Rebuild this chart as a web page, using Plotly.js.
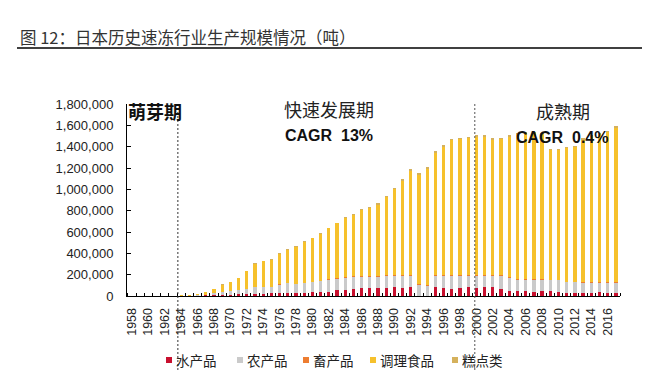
<!DOCTYPE html>
<html>
<head>
<meta charset="utf-8">
<script src="https://cdn.plot.ly/plotly-3.0.1.min.js"></script>
<style>html,body{margin:0;padding:0;background:#fff;}#chart{width:650px;height:374px;}</style>
</head>
<body>
<div id="chart"></div>
<script>
const years = [1958,1959,1960,1961,1962,1963,1964,1965,1966,1967,1968,1969,1970,1971,1972,1973,1974,1975,1976,1977,1978,1979,1980,1981,1982,1983,1984,1985,1986,1987,1988,1989,1990,1991,1992,1993,1994,1995,1996,1997,1998,1999,2000,2001,2002,2003,2004,2005,2006,2007,2008,2009,2010,2011,2012,2013,2014,2015,2016,2017];
const tickYears = [1958,1960,1962,1964,1966,1968,1970,1972,1974,1976,1978,1980,1982,1984,1986,1988,1990,1992,1994,1996,1998,2000,2002,2004,2006,2008,2010,2012,2014,2016];

// 水产品
const seafood = [0,0,0,0,0,0,0,1000,2000,5000,10000,12000,14000,16000,18000,22000,22000,24000,26000,28000,28000,30000,36000,38000,40000,52000,56000,62000,76000,72000,74000,78000,80000,76000,82000,2000,2000,80000,72000,66000,78000,80000,76000,86000,86000,66000,50000,48000,45000,38000,45000,45000,38000,30000,32000,30000,32000,38000,32000,30000];
// 农产品
const agri = [0,0,0,0,0,0,0,2000,4000,8000,15000,25000,32000,40000,48000,58000,60000,60000,80000,90000,84000,88000,92000,100000,112000,108000,116000,120000,102000,110000,108000,112000,112000,116000,110000,100000,92000,107000,113000,119000,107000,105000,109000,99000,99000,119000,120000,102000,105000,112000,105000,103000,108000,98000,96000,96000,94000,88000,93000,93000];
// 畜产品
const livestock = [0,0,0,0,0,0,0,0,0,1000,1000,2000,2000,2000,3000,4000,4000,4000,5000,5000,5000,6000,6000,7000,7000,8000,8000,8000,8000,8000,8000,8000,8000,8000,8000,6000,6000,8000,8000,8000,8000,8000,8000,8000,8000,8000,7000,6000,6000,6000,6000,6000,6000,5000,5000,5000,5000,5000,5000,5000];
// 调理食品
const prepared = [600,900,1300,2000,3000,4500,6500,9000,12000,20000,37000,67000,83000,110000,161000,218000,240000,250000,286000,311000,347000,381000,407000,437000,475000,513000,547000,566000,624000,634000,667000,727000,803000,880000,973000,1028000,1094000,1148000,1203000,1266000,1275000,1285000,1297000,1297000,1269000,1275000,1318000,1359000,1369000,1369000,1359000,1211000,1213000,1252000,1262000,1334000,1364000,1384000,1405000,1447000];
// 糕点类
const confection = [0,0,0,0,0,0,0,0,0,1000,2000,3000,3000,3000,4000,4000,4000,5000,5000,5000,6000,6000,7000,7000,8000,8000,9000,10000,10000,11000,12000,12000,13000,13000,14000,14000,14000,15000,15000,15000,15000,15000,15000,15000,15000,15000,15000,15000,15000,15000,15000,15000,15000,15000,15000,15000,15000,15000,15000,15000];

const seriesNames = ['水产品','农产品','畜产品','调理食品','糕点类'];
const seriesColors = ['#C8102E','#CACACA','#ED7D31','#F6C12C','#D5B15C'];
const seriesData = [seafood, agri, livestock, prepared, confection];

const phaseBreaks = [1963.6, 1999.8];

const W = 650, H = 374;
const M = {l: 127, r: 30, t: 104, b: 78};
const PW = W - M.l - M.r, PH = H - M.t - M.b;
const px = x => (x - M.l) / PW;
const py = y => (H - M.b - y) / PH;

const FONT = 'Liberation Sans, Arial, Noto Sans CJK SC, sans-serif';
const CJK = 'Noto Sans CJK SC, Liberation Sans, sans-serif';

const traces = seriesData.map((d, i) => ({
  type: 'bar',
  x: years,
  y: d,
  name: seriesNames[i],
  marker: {color: seriesColors[i], line: {width: 0}},
  hoverinfo: 'skip',
  showlegend: false
}));

const shapes = [
  {type:'line', xref:'paper', yref:'paper', x0:px(17), x1:px(642), y0:py(48), y1:py(48), line:{color:'#000', width:1.6}},
  {type:'line', xref:'x', yref:'paper', x0:phaseBreaks[0], x1:phaseBreaks[0], y0:py(112), y1:py(372), line:{color:'#333', width:1, dash:'2px,2px'}},
  {type:'line', xref:'x', yref:'paper', x0:phaseBreaks[1], x1:phaseBreaks[1], y0:py(104), y1:py(372), line:{color:'#555', width:1, dash:'2px,2px'}}
];

const legendX = [166, 237, 303, 370, 452];
const ann = (text, x, y, font) => ({text, x:px(x), y:py(y), xref:'paper', yref:'paper', xanchor:'center', yanchor:'middle', showarrow:false, font});
const annotations = [
  ann('萌芽期', 155, 111, {family:CJK, size:18, color:'#111', weight:'bold'}),
  ann('快速发展期', 329, 109, {family:CJK, size:18, color:'#222'}),
  ann('CAGR  13%', 329, 135, {family:FONT, size:16, color:'#111', weight:'bold'}),
  ann('成熟期', 563, 111, {family:CJK, size:18, color:'#222'}),
  ann('CAGR  0.4%', 562, 137, {family:FONT, size:16, color:'#111', weight:'bold'})
];
seriesNames.forEach((n, i) => {
  shapes.push({type:'rect', xref:'paper', yref:'paper', x0:px(legendX[i]), x1:px(legendX[i]+6), y0:py(357), y1:py(363), fillcolor:seriesColors[i], line:{width:0}});
  annotations.push({text:n, x:px(legendX[i]+8), y:py(360), xref:'paper', yref:'paper', xanchor:'left', yanchor:'middle', showarrow:false, font:{family:CJK, size:13.5, color:'#222'}});
});

const layout = {
  width: W, height: H,
  margin: M,
  paper_bgcolor: '#fff', plot_bgcolor: '#fff',
  barmode: 'stack',
  bargap: 0.6,
  font: {family: FONT, color: '#222'},
  title: {text: '图 12：日本历史速冻行业生产规模情况（吨）', x: 20/W, xref: 'container', xanchor: 'left', y: 1 - 38/H, yref: 'container', yanchor: 'middle', font: {family: CJK, size: 16.5, color: '#333'}},
  xaxis: {
    range: [1957.4, 2017.5],
    tickmode: 'array', tickvals: tickYears, ticktext: tickYears.map(String),
    tickangle: -90, ticks: '', tickfont: {size: 12.5, color: '#222'},
    ticklabelstandoff: 6,
    showline: true, linecolor: '#000', linewidth: 1, showgrid: false, zeroline: false,
    minor: {tickmode: 'linear', tick0: 1957.5, dtick: 1, ticks: 'inside', ticklen: 3, tickcolor: '#000', tickwidth: 1, showgrid: false}
  },
  yaxis: {
    range: [0, 1800000], dtick: 200000, tickformat: ',d',
    ticks: 'inside', ticklen: 4, tickcolor: '#000', tickfont: {size: 13, color: '#222'},
    showline: true, linecolor: '#000', linewidth: 1, showgrid: false, zeroline: false,
    ticklabelstandoff: 10
  },
  shapes: shapes,
  annotations: annotations,
  hovermode: false
};

Plotly.newPlot('chart', traces, layout, {displayModeBar: false, staticPlot: true});
</script>
</body>
</html>
